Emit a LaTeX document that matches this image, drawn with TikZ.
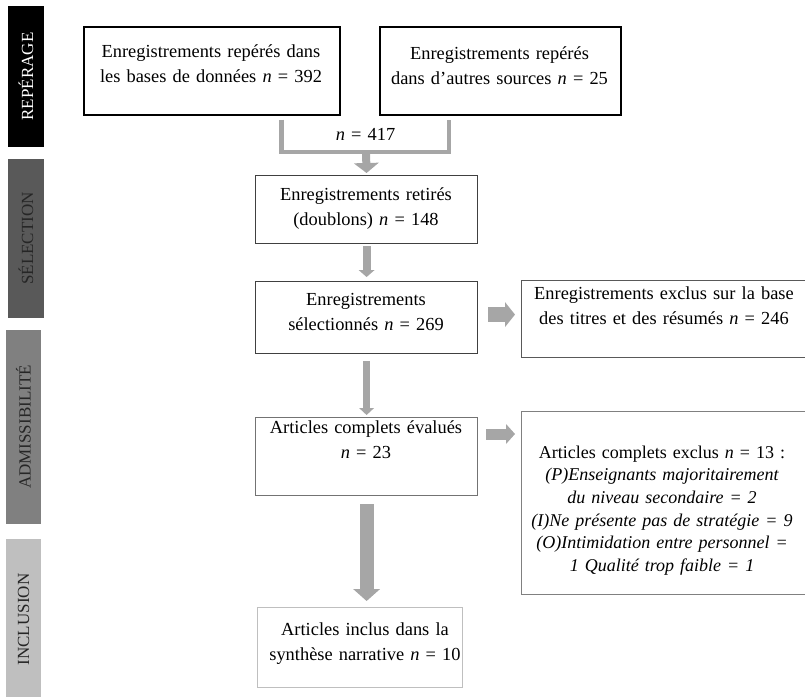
\documentclass[tikz,border=0pt]{standalone}
\usepackage{fontspec}
\setmainfont{Liberation Serif}
\usetikzlibrary{arrows.meta,calc,positioning}
\definecolor{gris}{RGB}{166,166,166}
\definecolor{grisfonce}{RGB}{89,89,89}
\definecolor{grismoyen}{RGB}{128,128,128}
\definecolor{grisclair}{RGB}{191,191,191}
\definecolor{encre}{RGB}{38,38,38}
\tikzset{
	bande/.style={rotate=90, inner sep=0pt, font=\fontsize{17}{17}\selectfont},
	cadre/.style={draw=#1, line width=1.2pt, inner sep=0pt, anchor=north west},
	cadre/.default=black,
	texte/.style={font=\fontsize{18.4}{25}\selectfont, align=center, text width=290pt, inner sep=0pt, anchor=base},
	trait/.style={draw=gris, line width=4.5pt},
	fleche/.style n args={3}{draw=gris, line width=#1, -{Triangle[width=#2, length=#3, line width=0pt]}},
}

\begin{document}
\begin{tikzpicture}[x=1pt, y=-1pt]
	%%%%% START %%%%%
	\useasboundingbox (0,0) rectangle (805,696);
	
	% bandes des etapes
	\node[bande, fill=black, text=white, minimum width=141, minimum height=36] (etRep) at (26,76.5) {REPÉRAGE};
	\node[bande, fill=grisfonce, text=encre, minimum width=159, minimum height=36] (etSel) at (26,238.5) {SÉLECTION};
	\node[bande, fill=grismoyen, text=encre, minimum width=194, minimum height=35] (etAdm) at (23.5,427) {ADMISSIBILITÉ};
	\node[bande, fill=grisclair, text=encre, minimum width=161, minimum height=35] (etInc) at (23.5,619.5) {INCLUSION};
	
	% cadres
	\node[cadre, line width=1.5pt, minimum width=256, minimum height=88] (rep1) at (83,26) {};
	\node[cadre, line width=1.5pt, minimum width=241, minimum height=88] (rep2) at (379,26) {};
	\node[cadre=black!75, minimum width=222, minimum height=68] (sel1) at (255,175) {};
	\node[cadre=black!75, minimum width=222, minimum height=72] (sel2) at (255,281) {};
	\node[cadre=grisfonce, minimum width=286, minimum height=77] (exc1) at (521,280) {};
	\node[cadre=black!55, minimum width=222, minimum height=78] (adm1) at (255,417) {};
	\node[cadre=grismoyen, minimum width=286, minimum height=183] (exc2) at (521,411) {};
	\node[cadre=grisclair, minimum width=205, minimum height=80] (inc1) at (257,607) {};
	
	% textes
	\node[texte] (rep1t) at (211,57.7) {Enregistrements repérés dans\\les bases de données \textit{n} = 392};
	\node[texte] (rep2t) at (499.5,59) {Enregistrements repérés\\dans d’autres sources \textit{n} = 25};
	\node[texte] (total) at (365.5,140) {\textit{n} = 417};
	\node[texte] (sel1t) at (366,200) {Enregistrements retirés\\(doublons) \textit{n} = 148};
	\node[texte] (sel2t) at (366,305.7) {Enregistrements\\sélectionnés \textit{n} = 269};
	\node[texte] (exc1t) at (664,299) {Enregistrements exclus sur la base\\des titres et des résumés \textit{n} = 246};
	\node[texte] (adm1t) at (366,433) {Articles complets évalués\\\textit{n} = 23};
	\node[texte, font=\fontsize{18}{22.7}\selectfont] (exc2t) at (662,458) {Articles complets exclus \textit{n} = 13 :\\\itshape (P)Enseignants majoritairement\\\itshape du niveau secondaire = 2\\\itshape (I)Ne présente pas de stratégie = 9\\\itshape (O)Intimidation entre personnel =\\\itshape 1 Qualité trop faible = 1};
	\node[texte] (inc1t) at (365,635) {Articles inclus dans la\\synthèse narrative \textit{n} = 10};
	
	% fleches
	\coordinate (fusion) at (366,152);
	\coordinate (depAdm) at ($(adm1.north east)+(0,17)$);
	\draw[trait] ([xshift=-59pt,yshift=-4pt]rep1.south east) |- (fusion) -| ([xshift=70pt,yshift=-4pt]rep2.south west);
	\draw[fleche={8pt}{25pt}{10pt}, shorten >=2pt] (fusion) -- (sel1.north);
	\draw[fleche={8pt}{16pt}{7pt}, shorten <=2pt, shorten >=4pt] (sel1.south) -- (sel2.north);
	\draw[fleche={15pt}{25pt}{10pt}, shorten <=10pt, shorten >=6pt] ([yshift=3pt]sel2.east) -- ([yshift=3pt]sel2.east -| exc1.west);
	\draw[fleche={7pt}{15pt}{7pt}, shorten <=7pt, shorten >=2pt] (sel2.south) -- (adm1.north);
	\draw[fleche={11pt}{20pt}{9pt}, shorten <=8pt, shorten >=6pt] (depAdm) -- (depAdm -| exc2.west);
	\draw[fleche={14pt}{27pt}{12pt}, shorten <=8pt, shorten >=6pt] (adm1.south) -- (adm1.south |- inc1.north);
	
	%%%%% END %%%%%
\end{tikzpicture}
\end{document}
